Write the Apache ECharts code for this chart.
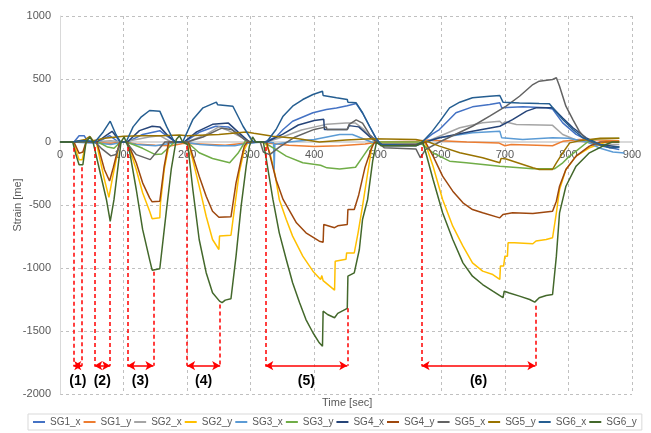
<!DOCTYPE html>
<html>
<head>
<meta charset="utf-8">
<script src="https://cdn.jsdelivr.net/npm/echarts@6/dist/echarts.min.js"></script>
<style>
html,body{margin:0;padding:0;background:#fff;}
#chart{width:651px;height:433px;}
</style>
</head>
<body>
<div id="chart"></div>
<script>
// ---- data: [time (sec), strain] pairs ----
const seriesNames = ['SG1_x','SG1_y','SG2_x','SG2_y','SG3_x','SG3_y','SG4_x','SG4_y','SG5_x','SG5_y','SG6_x','SG6_y'];

const sg1x = [[0,0],[22,0],[30,50],[38,50],[44,0],[52,0],[60,0],[78,50],[92,0],[106,0],[130,60],[157,90],[170,40],[182,0],[196,0],[220,80],[245,125],[265,120],[283,50],[298,-10],[310,0],[322,0],[340,40],[351,99],[366,165],[398,232],[419,258],[435,270],[452,288],[455,295],[466,305],[476,230],[487,125],[497,30],[505,-20],[560,-20],[570,0],[585,60],[597,99],[623,232],[649,279],[676,298],[692,311],[695,271],[728,279],[765,271],[775,262],[791,152],[812,60],[828,20],[854,-33],[880,-60]];
const sg1y = [[0,0],[20,0],[40,0],[60,-5],[80,-10],[100,0],[120,-15],[150,-25],[175,-30],[195,-10],[220,-15],[260,-25],[290,-10],[310,0],[330,-10],[360,-25],[400,-35],[440,-30],[480,-15],[500,0],[560,5],[580,15],[600,10],[640,0],[690,-7],[700,-30],[710,-20],[750,-25],[775,-30],[791,5],[817,20],[850,15],[880,10]];
const sg2x = [[0,0],[20,0],[50,0],[80,10],[100,0],[140,40],[157,50],[175,0],[200,0],[230,60],[250,120],[265,90],[285,40],[298,0],[325,0],[350,40],[380,95],[410,130],[420,140],[450,150],[465,150],[478,100],[495,0],[505,-10],[560,-10],[575,0],[597,46],[629,113],[665,152],[692,165],[696,145],[700,160],[718,139],[775,132],[791,60],[817,7],[849,-20],[880,-20]];
const sg2y = [[0,0],[21,0],[30,-140],[35,-140],[41,0],[57,0],[70,-300],[77,-440],[82,-300],[94,0],[106,0],[120,-218],[130,-403],[141,-549],[145,-610],[157,-602],[158,-490],[164,-218],[172,-5],[176,0],[202,0],[219,-350],[230,-589],[240,-774],[250,-853],[251,-747],[269,-740],[275,-509],[282,-243],[290,-60],[296,0],[322,0],[330,-80],[338,-250],[345,-456],[356,-615],[366,-747],[382,-906],[398,-1025],[410,-1091],[412,-1060],[414,-1100],[432,-1176],[433,-946],[450,-930],[451,-880],[463,-880],[469,-721],[476,-509],[484,-250],[492,0],[500,-10],[560,-10],[574,0],[587,-192],[602,-456],[618,-668],[634,-827],[649,-959],[665,-1025],[681,-1052],[692,-1091],[693,-985],[698,-985],[700,-906],[704,-906],[705,-800],[715,-800],[744,-808],[749,-786],[765,-774],[775,-760],[781,-562],[786,-377],[796,-218],[812,-112],[833,-46],[859,0],[880,0]];
const sg3x = [[0,0],[20,0],[40,-5],[60,-10],[80,-20],[100,0],[120,-20],[150,-30],[175,-10],[195,0],[220,-20],[250,-30],[275,-30],[295,-10],[320,0],[336,-5],[337,-220],[338,-20],[360,0],[400,20],[420,40],[440,60],[460,60],[470,40],[490,0],[505,-15],[560,-15],[575,0],[597,33],[649,73],[692,86],[695,33],[728,20],[775,33],[800,30],[830,0],[850,-50],[870,-80],[888,-88]];
const sg3y = [[0,0],[20,0],[45,0],[60,0],[75,-40],[85,-50],[95,0],[105,0],[130,-50],[150,-100],[160,-95],[172,-40],[180,0],[200,0],[219,-85],[240,-131],[267,-165],[280,-90],[292,10],[300,0],[320,0],[340,-60],[356,-112],[382,-165],[410,-185],[420,-205],[440,-215],[465,-200],[476,-120],[487,-40],[497,0],[565,0],[587,-86],[613,-152],[639,-165],[692,-192],[744,-213],[778,-213],[790,-170],[800,-120],[815,-60],[830,0],[845,25],[880,30]];
const sg4x = [[0,0],[20,0],[40,10],[58,0],[75,60],[82,85],[95,0],[106,0],[125,90],[145,125],[157,120],[170,50],[182,0],[195,0],[215,80],[240,140],[265,150],[280,80],[298,0],[325,0],[350,60],[375,135],[400,170],[415,180],[416,100],[452,100],[455,130],[470,120],[490,30],[500,0],[510,-30],[560,-30],[575,0],[597,33],[649,86],[692,125],[712,178],[734,245],[749,271],[775,271],[791,190],[807,113],[828,33],[849,-20],[880,-40]];
const sg4y = [[0,0],[22,0],[30,-90],[36,-80],[41,0],[58,0],[70,-220],[78,-310],[84,-200],[94,0],[106,0],[120,-165],[130,-324],[141,-443],[145,-475],[157,-470],[164,-192],[171,0],[202,0],[219,-271],[230,-430],[240,-549],[250,-597],[269,-594],[277,-324],[285,-139],[290,-33],[295,0],[325,0],[330,-100],[340,-300],[351,-456],[372,-641],[387,-721],[408,-787],[414,-795],[415,-655],[432,-680],[437,-665],[452,-655],[453,-536],[463,-536],[470,-420],[480,-200],[490,-50],[495,0],[505,-20],[560,-20],[575,0],[587,-112],[602,-271],[618,-390],[634,-483],[649,-536],[665,-562],[692,-602],[697,-575],[712,-562],[744,-568],[775,-549],[781,-470],[786,-351],[796,-218],[812,-112],[833,-33],[850,0],[880,0]];
const sg5x = [[0,0],[20,0],[55,0],[65,-50],[80,-110],[88,-100],[96,0],[104,0],[120,-100],[142,-140],[151,-85],[165,0],[200,0],[225,40],[250,100],[255,110],[270,100],[290,20],[300,0],[315,0],[320,-80],[330,-100],[345,-40],[370,40],[400,100],[419,120],[420,99],[452,99],[455,140],[466,175],[476,150],[487,60],[500,0],[510,-45],[560,-55],[567,-125],[575,-60],[597,0],[649,125],[676,205],[702,284],[723,363],[744,456],[754,483],[775,496],[781,510],[786,443],[796,284],[807,178],[817,86],[828,20],[844,-20],[870,-45],[880,-40]];
const sg5y = [[0,0],[20,0],[40,20],[47,45],[52,10],[70,30],[100,45],[130,50],[160,50],[188,55],[200,50],[250,60],[293,80],[305,70],[335,46],[370,30],[408,0],[450,15],[490,25],[560,20],[580,0],[597,-33],[629,-86],[665,-125],[692,-165],[694,-130],[702,-135],[744,-205],[754,-218],[775,-218],[781,-165],[791,-86],[802,-7],[817,10],[850,30],[880,30]];
const sg6x = [[0,0],[20,0],[30,10],[40,10],[55,0],[68,80],[79,165],[88,60],[95,0],[104,0],[115,120],[128,200],[141,250],[157,245],[168,120],[180,0],[193,0],[209,178],[225,271],[246,316],[248,296],[272,284],[288,125],[301,20],[305,0],[325,0],[340,99],[351,205],[366,284],[382,337],[398,377],[413,403],[414,369],[435,351],[452,337],[453,316],[466,311],[476,232],[487,125],[497,33],[505,-20],[560,-25],[570,0],[585,80],[597,160],[613,271],[629,316],[649,351],[676,363],[692,369],[697,316],[723,310],[754,305],[770,303],[791,178],[807,99],[823,33],[844,-7],[865,-46],[880,-40]];
const sg6y = [[0,0],[20,0],[25,-100],[30,-180],[36,-180],[41,0],[47,40],[52,0],[55,0],[73,-456],[79,-630],[85,-456],[96,0],[101,40],[104,0],[109,-60],[120,-377],[130,-694],[141,-933],[145,-1017],[157,-1006],[167,-562],[175,-218],[183,20],[188,50],[193,0],[201,-20],[209,-377],[219,-774],[230,-1037],[240,-1196],[251,-1263],[255,-1275],[260,-1255],[269,-1244],[277,-906],[285,-509],[293,-192],[298,-33],[303,40],[308,0],[320,0],[325,-150],[335,-456],[345,-721],[356,-933],[366,-1117],[377,-1276],[387,-1409],[398,-1514],[408,-1594],[413,-1621],[414,-1343],[421,-1369],[432,-1395],[437,-1360],[452,-1320],[453,-1065],[463,-1038],[471,-853],[476,-615],[484,-456],[492,-150],[498,0],[505,-30],[560,-30],[571,0],[587,-298],[602,-562],[618,-774],[634,-959],[649,-1065],[665,-1131],[681,-1184],[697,-1236],[699,-1184],[707,-1199],[723,-1223],[739,-1250],[747,-1271],[754,-1236],[765,-1218],[775,-1210],[781,-906],[786,-562],[796,-351],[812,-192],[833,-86],[859,-20],[869,0],[880,0]];

// loading intervals: [start, end, label]
const spans = [[21,35,'(1)'],[54,79,'(2)'],[106,147,'(3)'],[200,252,'(4)'],[323,452,'(5)'],[569,748,'(6)']];
// strain value where each dashed guide starts: [left, right]
const guideTops = [[-45,-200],[-40,-650],[-40,-1030],[-30,-1290],[-40,-1320],[-40,-1300]];
const arrowLevel = -1775;
const labelLevel = -1895;

const yTicks = [-2000,-1500,-1000,-500,0,500,1000];
const xTicks = [0,100,200,300,400,500,600,700,800,900];

const seriesData = [sg1x,sg1y,sg2x,sg2y,sg3x,sg3y,sg4x,sg4y,sg5x,sg5y,sg6x,sg6y];
const colors = ['#4472C4','#ED7D31','#A5A5A5','#FFC000','#5B9BD5','#70AD47','#264478','#9E480E','#636363','#997300','#255E91','#43682B'];

const W = 651, H = 433;
const grid = {left:60,right:19,top:16,bottom:39};
const yMin = yTicks[0], yMax = yTicks[yTicks.length-1];
const plotH = H - grid.top - grid.bottom;
// move the time axis up to the strain = 0 line (Excel style)
const xAxisOffset = -plotH * (0 - yMin) / (yMax - yMin);

const chart = echarts.init(document.getElementById('chart'), null, {renderer:'canvas'});

const lineSeries = seriesNames.map((n,i)=>({
  name:n, type:'line', data:seriesData[i], showSymbol:false, symbol:'none',
  lineStyle:{width:1.5,color:colors[i]}, itemStyle:{color:colors[i]},
  animation:false
}));

const markLines = [];
spans.forEach((s,i)=>{
  markLines.push([{coord:[s[0],guideTops[i][0]],symbol:'none',lineStyle:{type:[4,3]}},{coord:[s[0],arrowLevel],symbol:'none'}]);
  markLines.push([{coord:[s[1],guideTops[i][1]],symbol:'none',lineStyle:{type:[4,3]}},{coord:[s[1],arrowLevel],symbol:'none'}]);
  markLines.push([{coord:[s[0],arrowLevel],symbol:'arrow',lineStyle:{type:'solid'}},{coord:[s[1],arrowLevel],symbol:'arrow'}]);
});

const annot = {
  name:'annot', type:'line', data:[], animation:false, silent:true,
  markLine:{
    silent:true, animation:false, symbolSize:[7,8],
    lineStyle:{color:'#FF0000',width:1.5},
    label:{show:false},
    data:markLines
  },
  markPoint:{
    silent:true, animation:false, symbol:'circle', symbolSize:1,
    itemStyle:{color:'rgba(0,0,0,0)'},
    label:{show:true,position:'inside',color:'#000',fontWeight:'bold',fontSize:14,fontFamily:'Liberation Sans',formatter:p=>p.name},
    data:spans.map(s=>({name:s[2],coord:[(s[0]+s[1])/2,labelLevel]}))
  }
};

chart.setOption({
  backgroundColor:'#fff',
  animation:false,
  textStyle:{fontFamily:'Liberation Sans'},
  grid:Object.assign({containLabel:false, outerBoundsMode:'none'},grid),
  legend:{
    data:seriesNames, left:28, top:414, icon:'rect', itemWidth:12, itemHeight:2, itemGap:3,
    padding:[3,5], borderColor:'#d9d9d9', borderWidth:1,
    textStyle:{fontSize:10,color:'#595959',fontFamily:'Liberation Sans'}
  },
  graphic:[{
    type:'text', left: grid.left + (W-grid.left-grid.right)/2 - 24, top:397,
    style:{text:'Time [sec]', fill:'#595959', font:'11px Liberation Sans'}
  }],
  xAxis:{
    type:'value', min:xTicks[0], max:xTicks[xTicks.length-1], interval:100,
    offset:xAxisOffset,
    axisLine:{show:true,onZero:false,lineStyle:{color:'#d9d9d9',width:2}},
    axisTick:{show:false},
    axisLabel:{color:'#595959',fontSize:11,margin:7,formatter:v=>String(v)},
    splitLine:{show:true,lineStyle:{color:'#c0c0c0',type:[3,3],width:1}}
  },
  yAxis:{
    type:'value', min:yMin, max:yMax, interval:500,
    name:'Strain [me]', nameLocation:'middle', nameGap:37, nameMoveOverlap:false,
    nameTextStyle:{color:'#595959',fontSize:11},
    axisLine:{show:true,onZero:false,lineStyle:{color:'#d9d9d9',width:1}},
    axisTick:{show:false},
    axisLabel:{color:'#595959',fontSize:11,margin:9,formatter:v=>String(v)},
    splitLine:{show:true,lineStyle:{color:'#c0c0c0',type:[3,3],width:1}}
  },
  series:[...lineSeries, annot]
});
</script>
</body>
</html>
